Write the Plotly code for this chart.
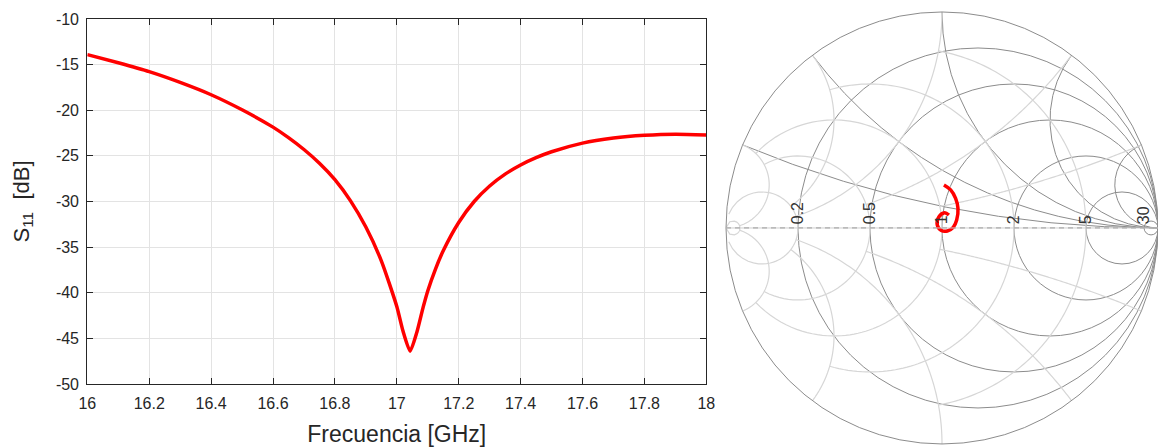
import numpy as np
import plotly.graph_objects as go

# ---- data ----
freq_ghz = [16.00, 16.10, 16.20, 16.30, 16.40, 16.50, 16.60, 16.65, 16.70, 16.75,
            16.80, 16.85, 16.90, 16.95, 17.00, 17.02, 17.043, 17.065, 17.085, 17.10,
            17.125, 17.15, 17.20, 17.25, 17.30, 17.35, 17.40, 17.45, 17.50, 17.60,
            17.70, 17.80, 17.90, 18.00]
s11_db = [-13.9, -14.8, -15.77, -16.95, -18.3, -19.95, -21.85, -23.0, -24.3, -25.8,
          -27.6, -29.9, -32.8, -36.5, -41.5, -44.2, -46.4, -44.3, -41.6, -39.8,
          -37.4, -35.4, -32.3, -30.0, -28.3, -27.0, -26.0, -25.2, -24.55, -23.6,
          -23.05, -22.75, -22.62, -22.7]

# reflection coefficient path on the Smith chart
gamma_re = [0.009, 0.040, 0.063, 0.074, 0.068, 0.052, 0.025, -0.003, -0.022, -0.014, 0.012, 0.032]
gamma_im = [0.199, 0.176, 0.137, 0.091, 0.037, 0.003, -0.014, -0.012, 0.014, 0.052, 0.071, 0.060]

x_ticks = [16, 16.2, 16.4, 16.6, 16.8, 17, 17.2, 17.4, 17.6, 17.8, 18]
x_ticktext = ["16", "16.2", "16.4", "16.6", "16.8", "17", "17.2", "17.4", "17.6", "17.8", "18"]
y_ticks = [-50, -45, -40, -35, -30, -25, -20, -15, -10]
y_ticktext = ["-50", "-45", "-40", "-35", "-30", "-25", "-20", "-15", "-10"]
smith_real_ticks = [0.2, 0.5, 1, 2, 5, 30]
smith_imag_ticks = [0.2, 0.5, 1, 2, 5]
# grid value -> how far its companion lines run (chart grid layout)
grid_limits = {0.2: 1, 0.5: 2, 1: 5, 2: 5, 5: 30, 30: np.inf}

g = np.array(gamma_re) + 1j * np.array(gamma_im)
z = (1 + g) / (1 - g)

# light admittance (Y) grid: constant-conductance circles and susceptance arcs
yr, yi = [], []
for v in smith_real_ticks:
    lim = grid_limits[v]
    t = np.linspace(-np.arctan(lim), np.arctan(lim), 160)
    zz = 1 / (v + 1j * np.tan(t))
    yr += list(zz.real) + [None]
    yi += list(zz.imag) + [None]
for v in smith_imag_ticks:
    lim = grid_limits[v]
    t = np.linspace(0, np.arctan(lim), 120)
    for s in (1, -1):
        zz = 1 / (np.tan(t) + 1j * s * v)
        yr += list(zz.real) + [None]
        yi += list(zz.imag) + [None]

W, H = 1158, 447
FONT = "Liberation Sans, Arial, sans-serif"
TXT = "#262626"

fig = go.Figure()
fig.add_trace(go.Scatter(x=freq_ghz, y=s11_db, mode="lines",
                         line=dict(color="#ff0000", width=3.5, shape="spline", smoothing=0.6),
                         showlegend=False, hoverinfo="skip"))
fig.add_trace(go.Scattersmith(real=yr, imag=yi, mode="lines",
                              line=dict(color="#d6d6d6", width=1.2),
                              showlegend=False, hoverinfo="skip", subplot="smith"))
fig.add_trace(go.Scattersmith(real=[0, 1e9], imag=[0, 0], mode="lines",
                              line=dict(color="#8a8a8a", width=1.2, dash="5px,4px"),
                              showlegend=False, hoverinfo="skip", subplot="smith"))
fig.add_trace(go.Scattersmith(real=z.real, imag=z.imag, mode="lines",
                              line=dict(color="#ff0000", width=3.5, shape="spline"),
                              showlegend=False, subplot="smith"))

fig.update_layout(
    width=W, height=H,
    margin=dict(l=0, r=0, t=0, b=0),
    paper_bgcolor="white", plot_bgcolor="white",
    font=dict(family=FONT, color=TXT, size=16),
    xaxis=dict(domain=[87.3 / W, 706.3 / W], range=[16, 18], automargin=False,
               tickvals=x_ticks, ticktext=x_ticktext,
               ticks="inside", ticklen=6, tickcolor=TXT, mirror="allticks",
               showline=True, linecolor=TXT, linewidth=1.2,
               showgrid=True, gridcolor="#e3e3e3", gridwidth=1, zeroline=False,
               tickfont=dict(size=16, color=TXT), ticklabelstandoff=5,
               title=dict(text="Frecuencia [GHz]", font=dict(size=23, color=TXT), standoff=18)),
    yaxis=dict(domain=[1 - 384 / H, 1 - 19 / H], range=[-50, -10], automargin=False,
               tickvals=y_ticks, ticktext=y_ticktext,
               ticks="inside", ticklen=6, tickcolor=TXT, mirror="allticks",
               showline=True, linecolor=TXT, linewidth=1.2,
               showgrid=True, gridcolor="#e3e3e3", gridwidth=1, zeroline=False,
               tickfont=dict(size=16, color=TXT), ticklabelstandoff=4,
               title=dict(text="S<sub>11</sub>  [dB]", font=dict(size=22, color=TXT), standoff=20)),
    smith=dict(
        domain=dict(x=[726 / W, 1.0], y=[0.0, 0.98]),
        bgcolor="white",
        realaxis=dict(tickvals=smith_real_ticks, tickangle=-90, side="top",
                      gridcolor="#8c8c8c", linecolor="#cfcfcf", gridwidth=1,
                      tickfont=dict(size=16, color="#333333"), ticks=""),
        imaginaryaxis=dict(tickvals=smith_imag_ticks, showticklabels=False,
                           gridcolor="#8c8c8c", linecolor="#8c8c8c", gridwidth=1, ticks=""),
    ),
)

fig.write_html("out.html", config={"displayModeBar": False},
               post_script="document.body.style.margin='0';document.body.style.padding='0';")
